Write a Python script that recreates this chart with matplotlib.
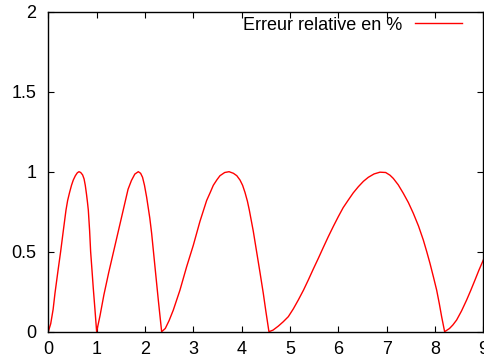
import matplotlib
matplotlib.use("Agg")
import matplotlib.pyplot as plt

# Values
x_vals = [0.0, 0.05, 0.10, 0.138, 0.2, 0.255, 0.31, 0.366, 0.40, 0.44, 0.48, 0.517, 0.56, 0.60, 0.634, 0.67, 0.71, 0.74, 0.765, 0.79, 0.81, 0.828, 0.855, 0.876, 0.905, 0.931, 0.965, 1.0,
          1.07, 1.15, 1.25, 1.35, 1.45, 1.55, 1.65, 1.72, 1.79, 1.862, 1.91, 1.95, 1.99, 2.035, 2.07, 2.1, 2.138, 2.207, 2.276, 2.345,
          2.42, 2.5, 2.586, 2.724, 2.862, 3.0, 3.138, 3.276, 3.35, 3.414, 3.49, 3.552, 3.65, 3.74, 3.83, 3.90, 3.966, 4.02, 4.07, 4.12, 4.159, 4.24, 4.31, 4.38, 4.448, 4.50, 4.565,
          4.65, 4.759, 4.86, 4.966, 5.07, 5.172, 5.28, 5.379, 5.48, 5.586, 5.69, 5.793, 5.9, 6.0, 6.1, 6.207, 6.31, 6.414, 6.52, 6.621, 6.74, 6.862, 6.98, 7.07, 7.138, 7.24, 7.345, 7.45, 7.552, 7.66, 7.759, 7.83, 7.897, 7.97, 8.035, 8.09, 8.138, 8.2,
          8.3, 8.37, 8.448, 8.55, 8.655, 8.74, 8.828, 8.91, 9.0]
y_vals = [0.0, 0.05, 0.14, 0.24, 0.38, 0.5, 0.63, 0.76, 0.82, 0.87, 0.915, 0.948, 0.975, 0.993, 1.0, 0.995, 0.98, 0.955, 0.915, 0.86, 0.81, 0.76, 0.63, 0.5, 0.38, 0.27, 0.14, 0.0,
          0.10, 0.23, 0.37, 0.5, 0.63, 0.76, 0.89, 0.945, 0.985, 1.0, 0.99, 0.965, 0.915, 0.84, 0.77, 0.71, 0.615, 0.406, 0.198, 0.0,
          0.02, 0.07, 0.135, 0.26, 0.406, 0.54, 0.69, 0.82, 0.87, 0.915, 0.95, 0.975, 0.995, 1.0, 0.99, 0.975, 0.948, 0.915, 0.87, 0.815, 0.76, 0.63, 0.5, 0.37, 0.24, 0.13, 0.0,
          0.01, 0.035, 0.062, 0.094, 0.143, 0.198, 0.26, 0.323, 0.39, 0.458, 0.527, 0.594, 0.66, 0.719, 0.775, 0.823, 0.868, 0.906, 0.94, 0.965, 0.986, 0.997, 0.995, 0.978, 0.958, 0.918, 0.865, 0.807, 0.74, 0.66, 0.573, 0.50, 0.427, 0.34, 0.26, 0.175, 0.094, 0.0,
          0.02, 0.042, 0.073, 0.13, 0.198, 0.258, 0.323, 0.385, 0.448]
series_label = "Erreur relative en %"
x_ticks = [0, 1, 2, 3, 4, 5, 6, 7, 8, 9]
y_ticks = [0, 0.5, 1, 1.5, 2]
y_tick_labels = ["0", "0.5", "1", "1.5", "2"]

plt.rcParams["font.family"] = ["Liberation Sans", "DejaVu Sans"]
W, H = 485, 361
fig = plt.figure(figsize=(W / 100, H / 100), dpi=100)
ax = fig.add_axes([48.3 / W, 1 - 331.7 / H, (483.3 - 48.3) / W, (331.7 - 11.7) / H])

ax.plot(x_vals, y_vals, color="#ff0000", lw=1.0, label=series_label)
ax.set_xlim(0, 9)
ax.set_ylim(0, 2)
ax.set_xticks(x_ticks)
ax.set_xticklabels([str(t) for t in x_ticks])
ax.set_yticks(y_ticks)
ax.set_yticklabels(y_tick_labels)
ax.tick_params(direction="in", length=4, width=0.8, top=True, right=True,
               labelsize=13, colors="black")
ax.tick_params(axis="x", pad=7)
ax.tick_params(axis="y", pad=8.5)
for s in ax.spines.values():
    s.set_linewidth(1.0)

leg = ax.legend(loc="center right", bbox_to_anchor=(462 / W, 1 - 25 / H),
                bbox_transform=fig.transFigure, frameon=False, markerfirst=False,
                fontsize=13, handlelength=2.6, handletextpad=0.7,
                borderaxespad=0, borderpad=0)

fig.savefig("out.png", dpi=100)
